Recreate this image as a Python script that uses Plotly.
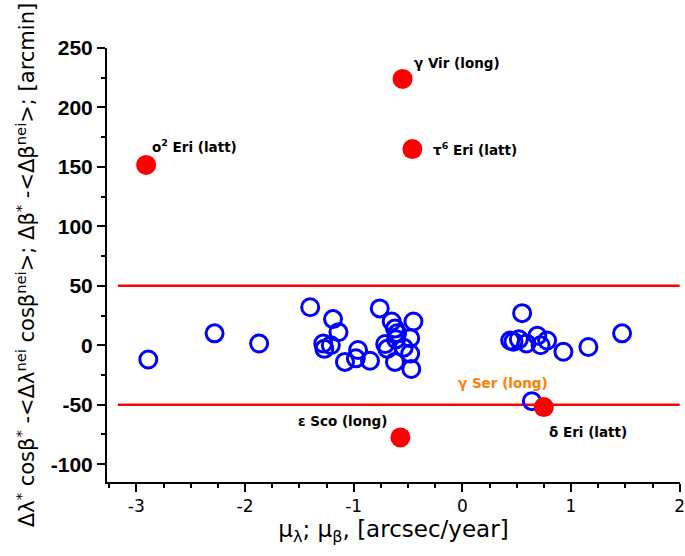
import plotly.graph_objects as go

# Blue open circles: normal stars (mu, delta offset)
blue_x = [-2.89, -2.28, -1.87,
          -1.40, -1.19, -1.14, -1.28, -1.27, -1.21, -1.08, -0.96, -0.98, -0.85,
          -0.76, -0.65, -0.62, -0.60, -0.61, -0.71, -0.69, -0.62, -0.54,
          -0.45, -0.48, -0.48, -0.47,
          0.55, 0.44, 0.47, 0.52, 0.59, 0.69, 0.72, 0.78, 0.93, 1.16, 1.47,
          0.64]
blue_y = [-12, 10, 1.5,
          32, 22, 11, 1.5, -3, 0, -14, -4, -11, -13,
          31, 20, 14, 10, 5, 1, -3, -14, -2,
          20, 6, -7, -20,
          27, 4, 3, 5, 1.5, 8, 0, 4, -5.5, -1.5, 10,
          -47]

# Red filled circles: outliers
red_names = ["o<sup>2</sup> Eri (latt)", "γ Vir (long)", "τ<sup>6</sup> Eri (latt)",
             "ε Sco (long)", "δ Eri (latt)"]
red_x = [-2.91, -0.55, -0.46, -0.57, 0.75]
red_y = [151.7, 224, 165, -77.5, -52]

# Extra label for the blue point gamma Ser
ser_name = "γ Ser (long)"

# Threshold lines
thr_levels = [50, -50]
thr_x = [-3.17, 2.0]

# Tick labels
x_ticks = [-3, -2, -1, 0, 1, 2]
x_ticktext = ["-3", "-2", "-1", "0", "1", "2"]
y_ticks = [-100, -50, 0, 50, 100, 150, 200, 250]
y_ticktext = ["-100", "-50", "0", "50", "100", "150", "200", "250"]

# Label anchor positions (left edge, middle)
label_pos = [(-2.87, 168), (-0.46, 237), (-0.285, 165), (-1.53, -64), (0.78, -73)]
ser_pos = (-0.055, -32)

fig = go.Figure()

for lv in thr_levels:
    fig.add_trace(go.Scatter(x=thr_x, y=[lv, lv], mode="lines",
                             line=dict(color="#ff0000", width=2.5),
                             showlegend=False, hoverinfo="skip", cliponaxis=False))

fig.add_trace(go.Scatter(x=blue_x, y=blue_y, mode="markers",
                         marker=dict(symbol="circle-open", size=17,
                                     color="#0000ff", line=dict(width=3, color="#0000ff")),
                         showlegend=False))

fig.add_trace(go.Scatter(x=red_x, y=red_y, mode="markers",
                         marker=dict(symbol="circle", size=20, color="#ff0000",
                                     line=dict(width=0)),
                         showlegend=False))

lab_font = dict(family="DejaVu Sans", size=13.5, color="black", weight="bold")
for name, (lx, ly) in zip(red_names, label_pos):
    fig.add_annotation(x=lx, y=ly, text=name, showarrow=False, xanchor="left",
                       yanchor="middle", font=lab_font)
fig.add_annotation(x=ser_pos[0], y=ser_pos[1], text=ser_name, showarrow=False,
                   xanchor="left", yanchor="middle",
                   font=dict(family="DejaVu Sans", size=13.5, color="#ff8000", weight="bold"))

fig.update_layout(
    width=685, height=556,
    margin=dict(l=107, r=5, t=48, b=74),
    plot_bgcolor="white", paper_bgcolor="white",
    xaxis=dict(range=[-3.27, 2.003], tickmode="array", tickvals=x_ticks, ticktext=x_ticktext,
               ticks="outside", ticklen=8, tickwidth=2, tickcolor="black",
               ticklabeloverflow="allow", automargin=False,
               minor=dict(dtick=0.25, ticks="outside", ticklen=4, tickwidth=2, tickcolor="black"),
               showline=True, linecolor="black", linewidth=2, showgrid=False, zeroline=False,
               tickfont=dict(family="DejaVu Sans", size=17, color="black"),
               title=dict(text="μ<sub>λ</sub>; μ<sub>β</sub>, [arcsec/year]",
                          font=dict(family="DejaVu Sans", size=23, color="black"), standoff=4)),
    yaxis=dict(range=[-115, 250], tickmode="array", tickvals=y_ticks, ticktext=y_ticktext,
               ticks="outside", ticklen=8, tickwidth=2, tickcolor="black",
               minor=dict(dtick=25, ticks="outside", ticklen=4, tickwidth=2, tickcolor="black"),
               showline=True, linecolor="black", linewidth=2, showgrid=False, zeroline=False,
               tickfont=dict(family="Liberation Sans", size=21, color="black", weight="bold"),
               title=dict(text="Δλ<sup>*</sup> cosβ<sup>*</sup> -<Δλ<sup>nei</sup> cosβ<sup>nei</sup>>; Δβ<sup>*</sup> -<Δβ<sup>nei</sup>>; [arcmin]",
                          font=dict(family="DejaVu Sans", size=21, color="black"), standoff=10)),
)

fig.write_html("out.html")
